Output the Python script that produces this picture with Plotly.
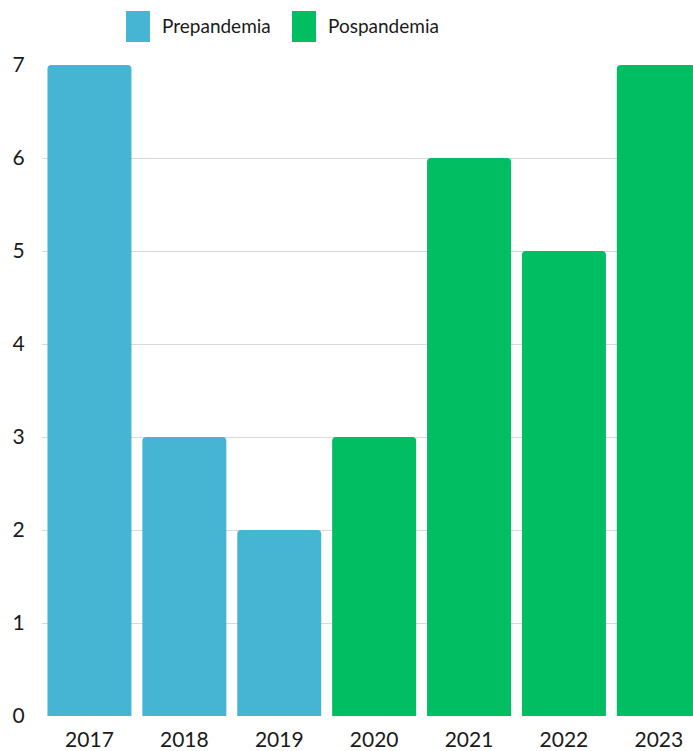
import plotly.graph_objects as go

years = ["2017", "2018", "2019", "2020", "2021", "2022", "2023"]
pre_years = ["2017", "2018", "2019"]
pre_values = [7, 3, 2]
post_years = ["2020", "2021", "2022", "2023"]
post_values = [3, 6, 5, 7]
series_names = ["Prepandemia", "Pospandemia"]
colors = ["#45B5D3", "#02BE63"]
y_ticks = [0, 1, 2, 3, 4, 5, 6, 7]

FONT = "Lato, 'Open Sans', sans-serif"
TXT = "#1a1a1a"

fig = go.Figure()
fig.add_trace(go.Bar(x=pre_years, y=pre_values, name=series_names[0],
                     marker=dict(color=colors[0], line=dict(width=0)), showlegend=False))
fig.add_trace(go.Bar(x=post_years, y=post_values, name=series_names[1],
                     marker=dict(color=colors[1], line=dict(width=0)), showlegend=False))

W, H = 693, 751
L, R, T, B = 42, 0, 65, 35
PW, PH = W - L - R, H - T - B

# custom legend (swatches + labels) converted from pixel to paper coords
def px(x):
    return (x - L) / PW
def py(y):
    return (H - B - y) / PH

shapes = []
annotations = []
legend_items = [(126, 160), (292, 326)]
for (sx, tx), name, col in zip(legend_items, series_names, colors):
    shapes.append(dict(type="rect", xref="paper", yref="paper",
                       x0=px(sx), x1=px(sx + 24), y0=py(42), y1=py(11),
                       fillcolor=col, line=dict(width=0), layer="above"))
    annotations.append(dict(xref="paper", yref="paper", x=px(tx), y=py(26),
                            xanchor="left", yanchor="middle", showarrow=False,
                            text=name, font=dict(family=FONT, size=19, color=TXT)))

fig.update_layout(
    width=W, height=H,
    margin=dict(l=L, r=R, t=T, b=B, autoexpand=False),
    plot_bgcolor="white", paper_bgcolor="white",
    barmode="overlay", bargap=0.115, barcornerradius=4,
    font=dict(family=FONT, size=21, color=TXT),
    shapes=shapes, annotations=annotations,
    xaxis=dict(categoryorder="array", categoryarray=years, range=[-0.5, 6.36],
               showgrid=False, showline=False, zeroline=False,
               ticks="outside", ticklen=5, tickcolor="rgba(0,0,0,0)",
               tickfont=dict(family=FONT, size=21, color=TXT)),
    yaxis=dict(range=[0, 7], tickvals=y_ticks, showgrid=True, gridcolor="#d9d9d9",
               gridwidth=1, zeroline=False, showline=False,
               ticks="outside", ticklen=12, tickcolor="rgba(0,0,0,0)",
               tickfont=dict(family=FONT, size=21, color=TXT)),
)

fig.write_html("out.html")
